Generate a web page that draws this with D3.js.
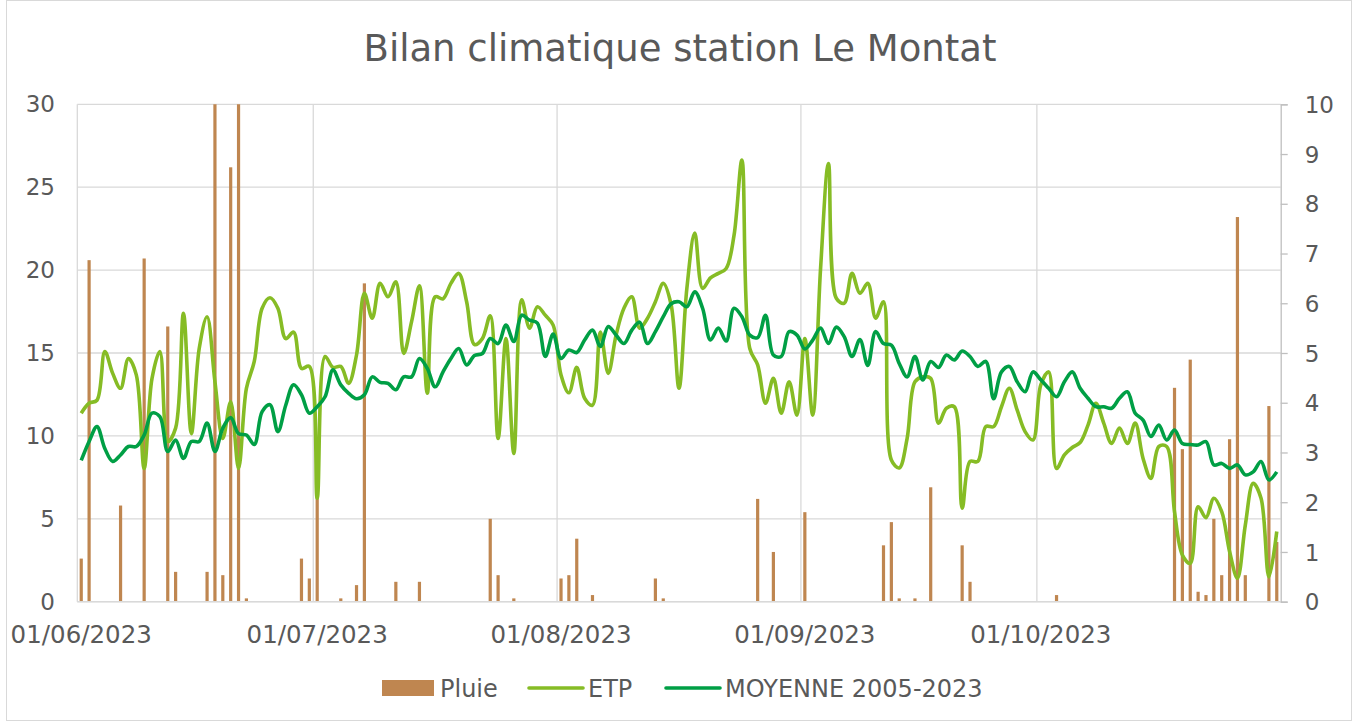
<!DOCTYPE html>
<html>
<head>
<meta charset="utf-8">
<script src="https://cdn.jsdelivr.net/npm/d3@7"></script>
<style>
  html, body { margin: 0; padding: 0; background: #fff; }
  svg { display: block; font-family: "DejaVu Sans", Verdana, sans-serif; }
</style>
</head>
<body>
<svg id="chart" width="1359" height="722"></svg>
<script>
// Daily values, 01/06/2023 -> 31/10/2023 (one array per month)
const startDate = new Date(Date.UTC(2023, 5, 1));
const endDate = new Date(Date.UTC(2023, 10, 1));

// Pluie (mm, left axis)
const pluieJuin = [2.6, 20.6, 0, 0, 0, 5.8, 0, 0, 20.7, 0, 0, 16.6, 1.8, 0, 0, 0, 1.8, 34, 1.6, 26.2, 32, 0.2, 0, 0, 0, 0, 0, 0, 2.6, 1.4];
const pluieJuillet = [9.4, 0, 0, 0.2, 0, 1.0, 19.2, 0, 0, 0, 1.2, 0, 0, 1.2, 0, 0, 0, 0, 0, 0, 0, 0, 5.0, 1.6, 0, 0.2, 0, 0, 0, 0, 0];
const pluieAout = [1.4, 1.6, 3.8, 0, 0.4, 0, 0, 0, 0, 0, 0, 0, 1.4, 0.2, 0, 0, 0, 0, 0, 0, 0, 0, 0, 0, 0, 6.2, 0, 3.0, 0, 0, 0];
const pluieSeptembre = [5.4, 0, 0, 0, 0, 0, 0, 0, 0, 0, 3.4, 4.8, 0.2, 0, 0.2, 0, 6.9, 0, 0, 0, 3.4, 1.2, 0, 0, 0, 0, 0, 0, 0, 0];
const pluieOctobre = [0, 0, 0.4, 0, 0, 0, 0, 0, 0, 0, 0, 0, 0, 0, 0, 0, 0, 12.9, 9.2, 14.6, 0.6, 0.4, 5.0, 1.6, 9.8, 23.2, 1.6, 0, 0, 11.8, 3.6];

// ETP (mm/j, right axis)
const etpJuin = [3.79, 3.99, 4.05, 5.03, 4.59, 4.29, 4.89, 4.56, 2.68, 4.49, 5.03, 3.22, 3.49, 5.80, 3.38, 5.09, 5.73, 4.42, 3.28, 4.02, 2.68, 4.29, 4.83, 5.90, 6.11, 5.90, 5.29, 5.42, 4.69, 4.73];
const etpJuillet = [2.08, 4.93, 4.71, 4.73, 4.39, 4.96, 6.20, 5.70, 6.40, 6.13, 6.43, 4.99, 5.63, 6.35, 4.19, 6.13, 6.09, 6.40, 6.60, 6.03, 5.17, 5.29, 5.75, 3.28, 5.29, 2.98, 6.07, 5.50, 5.93, 5.76, 5.56];
const etpAout = [4.56, 4.20, 4.71, 4.09, 3.95, 5.42, 4.59, 5.36, 5.90, 6.13, 5.50, 5.70, 6.03, 6.40, 5.97, 4.29, 6.30, 7.41, 6.30, 6.51, 6.60, 6.70, 7.37, 8.88, 5.09, 4.76, 3.99, 4.49, 3.79, 4.42, 3.75];
const etpSeptembre = [5.29, 3.75, 6.70, 8.81, 6.10, 6.00, 6.60, 6.20, 6.40, 5.70, 6.03, 2.85, 2.69, 3.28, 4.42, 4.52, 4.49, 3.59, 3.89, 3.92, 1.88, 2.82, 2.82, 3.52, 3.52, 3.92, 4.29, 3.85, 3.42, 3.25];
const etpOctobre = [4.36, 4.62, 2.68, 2.95, 3.10, 3.20, 3.55, 3.99, 3.59, 3.18, 3.49, 3.18, 3.59, 2.88, 2.48, 3.12, 3.12, 1.81, 0.94, 0.77, 1.91, 1.69, 2.08, 1.81, 1.01, 0.47, 1.54, 2.38, 2.08, 0.50, 1.41];

// MOYENNE 2005-2023 (mm/j, right axis)
const moyJuin = [2.84, 3.22, 3.52, 3.08, 2.82, 2.95, 3.12, 3.12, 3.35, 3.79, 3.72, 3.02, 3.25, 2.88, 3.22, 3.22, 3.59, 3.02, 3.49, 3.70, 3.38, 3.35, 3.16, 3.82, 3.96, 3.42, 3.95, 4.36, 4.16, 3.79];
const moyJuillet = [3.92, 4.12, 4.66, 4.36, 4.19, 4.08, 4.16, 4.52, 4.41, 4.39, 4.26, 4.52, 4.52, 4.89, 4.69, 4.32, 4.62, 4.89, 5.09, 4.76, 4.95, 4.99, 5.29, 5.19, 5.56, 5.23, 5.76, 5.66, 5.60, 4.93, 5.38];
const moyAout = [4.89, 5.06, 5.01, 5.26, 5.46, 5.13, 5.53, 5.36, 5.19, 5.46, 5.62, 5.19, 5.43, 5.73, 5.99, 6.03, 5.93, 6.23, 5.90, 5.26, 5.50, 5.24, 5.90, 5.73, 5.36, 5.31, 5.76, 4.96, 4.93, 5.43, 5.36];
const moySeptembre = [5.08, 5.26, 5.50, 5.19, 5.52, 5.33, 4.93, 5.27, 4.75, 5.43, 5.19, 5.16, 4.79, 4.52, 4.93, 4.46, 4.83, 4.71, 4.96, 4.86, 5.04, 4.93, 4.73, 4.83, 4.08, 4.62, 4.73, 4.42, 4.22, 4.62];
const moyOctobre = [4.46, 4.29, 4.12, 4.42, 4.62, 4.29, 4.09, 3.92, 3.92, 3.89, 4.09, 4.22, 3.79, 3.65, 3.32, 3.55, 3.25, 3.45, 3.18, 3.16, 3.15, 3.22, 2.75, 2.78, 2.68, 2.75, 2.55, 2.61, 2.82, 2.45, 2.61];

const leftTicks = [0, 5, 10, 15, 20, 25, 30];
const rightTicks = [0, 1, 2, 3, 4, 5, 6, 7, 8, 9, 10];
const legendLabels = ['Pluie', 'ETP', 'MOYENNE 2005-2023'];
const title = 'Bilan climatique station Le Montat';

const colors = { pluie: '#BF8650', etp: '#86BC25', moy: '#009F45', grid: '#D9D9D9', text: '#595959' };

const pluie = [].concat(pluieJuin, pluieJuillet, pluieAout, pluieSeptembre, pluieOctobre);
const etp = [].concat(etpJuin, etpJuillet, etpAout, etpSeptembre, etpOctobre);
const moy = [].concat(moyJuin, moyJuillet, moyAout, moySeptembre, moyOctobre);
const days = d3.utcDay.range(startDate, endDate);

const svg = d3.select('#chart');
const plot = { left: 77.3, right: 1280.7, top: 104.3, bottom: 601.7 };

// Scales
const x = d3.scaleUtc().domain([startDate, endDate]).range([plot.left, plot.right]);
const dayW = (plot.right - plot.left) / days.length;
const xc = d => x(d) + dayW / 2;
const yL = d3.scaleLinear().domain([0, 30]).range([plot.bottom, plot.top]);
const yR = d3.scaleLinear().domain([0, 10]).range([plot.bottom, plot.top]);

// Chart border
svg.append('rect')
  .attr('x', 6.5).attr('y', 0.5).attr('width', 1345).attr('height', 720)
  .attr('fill', '#fff').attr('stroke', colors.grid);

// Title
svg.append('text')
  .attr('x', 680).attr('y', 61)
  .attr('text-anchor', 'middle')
  .attr('font-size', 37)
  .attr('fill', colors.text)
  .text(title);

// Horizontal gridlines (left axis)
svg.append('g').selectAll('line')
  .data(leftTicks)
  .join('line')
  .attr('x1', plot.left).attr('x2', plot.right)
  .attr('y1', d => yL(d)).attr('y2', d => yL(d))
  .attr('stroke', colors.grid).attr('stroke-width', 1.3);

// Vertical gridlines at month starts
const months = d3.utcMonth.range(startDate, endDate);
svg.append('g').selectAll('line')
  .data(months)
  .join('line')
  .attr('x1', d => x(d)).attr('x2', d => x(d))
  .attr('y1', plot.top).attr('y2', plot.bottom)
  .attr('stroke', colors.grid).attr('stroke-width', 1.3);

// Left axis labels
svg.append('g').selectAll('text')
  .data(leftTicks)
  .join('text')
  .attr('x', 55).attr('y', d => yL(d) + 8)
  .attr('text-anchor', 'end')
  .attr('font-size', 23)
  .attr('fill', colors.text)
  .text(d => d);

// Right axis
const rightAxis = svg.append('g')
  .attr('transform', `translate(${plot.right},0)`)
  .call(d3.axisRight(yR).tickValues(rightTicks).tickSize(7).tickPadding(17).tickFormat(d3.format('d')));
rightAxis.select('.domain').attr('stroke', '#BFBFBF').attr('stroke-width', 1.3);
rightAxis.selectAll('.tick line').attr('stroke', '#BFBFBF').attr('stroke-width', 1.3);
rightAxis.selectAll('.tick text')
  .attr('font-family', '"DejaVu Sans", Verdana, sans-serif')
  .attr('font-size', 23).attr('fill', colors.text).attr('dy', '0.35em');

// X labels, centred on the first day of each month
svg.append('g').selectAll('text')
  .data(months)
  .join('text')
  .attr('x', d => xc(d)).attr('y', 643)
  .attr('text-anchor', 'middle')
  .attr('font-size', 24.5)
  .attr('fill', colors.text)
  .text(d => d3.utcFormat('%d/%m/%Y')(d));

// Clip for bars that exceed 30
svg.append('defs').append('clipPath').attr('id', 'plot-clip')
  .append('rect')
  .attr('x', plot.left).attr('y', plot.top)
  .attr('width', plot.right - plot.left).attr('height', plot.bottom - plot.top);

const marks = svg.append('g').attr('clip-path', 'url(#plot-clip)');

// Pluie bars
marks.append('g').selectAll('rect')
  .data(days.map((d, i) => ({ date: d, v: pluie[i] })).filter(d => d.v > 0))
  .join('rect')
  .attr('x', d => xc(d.date) - 1.6)
  .attr('width', 3.2)
  .attr('y', d => yL(d.v))
  .attr('height', d => yL(0) - yL(d.v))
  .attr('fill', colors.pluie);

// Lines
const line = d3.line()
  .x(d => xc(d.date))
  .y(d => yR(d.v))
  .curve(d3.curveCatmullRom.alpha(0.5));

marks.append('path')
  .datum(days.map((d, i) => ({ date: d, v: etp[i] })))
  .attr('d', line)
  .attr('fill', 'none')
  .attr('stroke', colors.etp)
  .attr('stroke-width', 3.6)
  .attr('stroke-linejoin', 'round');

marks.append('path')
  .datum(days.map((d, i) => ({ date: d, v: moy[i] })))
  .attr('d', line)
  .attr('fill', 'none')
  .attr('stroke', colors.moy)
  .attr('stroke-width', 3.6)
  .attr('stroke-linejoin', 'round');

// Bottom axis line
svg.append('line')
  .attr('x1', plot.left).attr('x2', plot.right)
  .attr('y1', plot.bottom).attr('y2', plot.bottom)
  .attr('stroke', colors.grid).attr('stroke-width', 1.5);

// Legend
const legend = svg.append('g');
const legendItems = [
  { label: legendLabels[0], type: 'rect', color: colors.pluie, x: 382, tx: 440 },
  { label: legendLabels[1], type: 'line', color: colors.etp, x: 529, tx: 588 },
  { label: legendLabels[2], type: 'line', color: colors.moy, x: 666, tx: 725 }
];
legendItems.forEach(it => {
  if (it.type === 'rect') {
    legend.append('rect')
      .attr('x', it.x).attr('y', 680).attr('width', 52).attr('height', 16)
      .attr('fill', it.color);
  } else {
    legend.append('line')
      .attr('x1', it.x).attr('x2', it.x + 54)
      .attr('y1', 688).attr('y2', 688)
      .attr('stroke', it.color).attr('stroke-width', 3.6)
      .attr('stroke-linecap', 'round');
  }
  legend.append('text')
    .attr('x', it.tx).attr('y', 697)
    .attr('font-size', 24)
    .attr('fill', colors.text)
    .text(it.label);
});
</script>
</body>
</html>
